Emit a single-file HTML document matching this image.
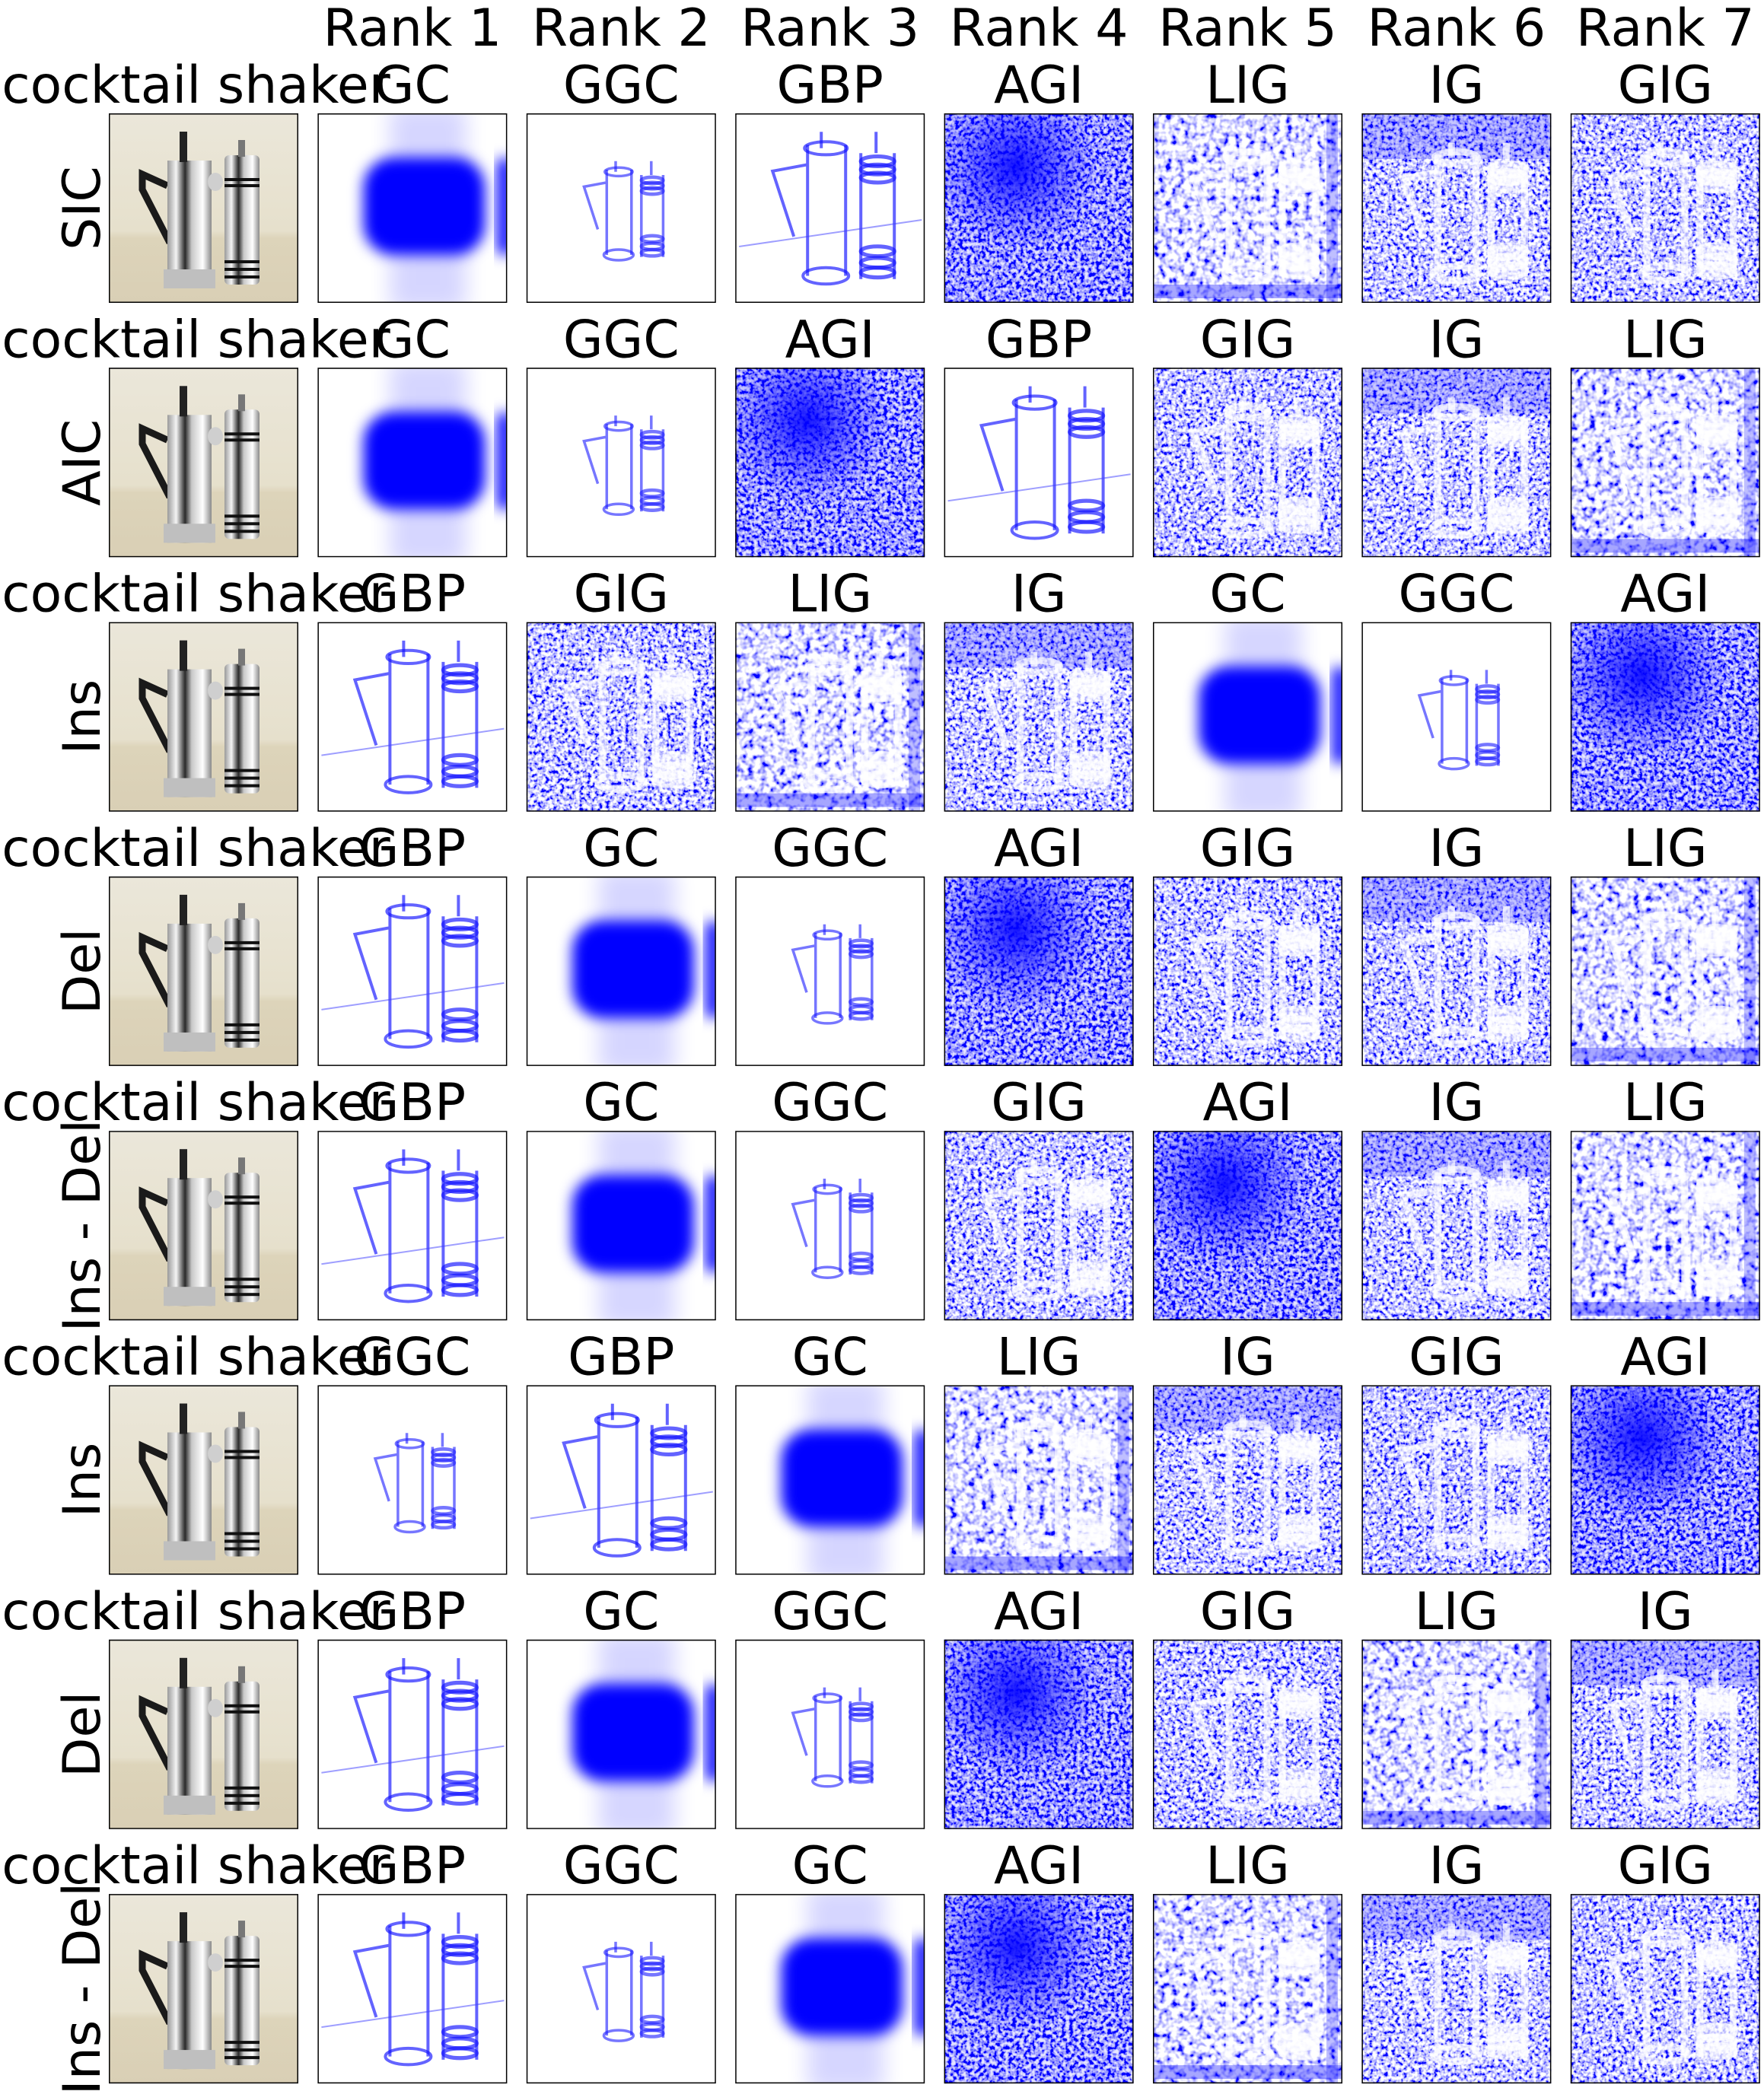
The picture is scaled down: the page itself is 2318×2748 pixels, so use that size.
<!DOCTYPE html>
<html><head><meta charset="utf-8"><title>Attribution method rankings – cocktail shaker</title>
<style>html,body{margin:0;padding:0;background:#fff;}svg{display:block;}</style></head>
<body>
<svg id="fig" xmlns="http://www.w3.org/2000/svg" width="2318" height="2748" viewBox="0 0 2318 2748" font-family="'DejaVu Sans','Liberation Sans',sans-serif">
<defs>
<linearGradient id="photoBg" x1="0" y1="0" x2="0" y2="1">
<stop offset="0" stop-color="#ebe7da"/><stop offset="0.62" stop-color="#e6e0cc"/><stop offset="0.66" stop-color="#ddd4ba"/><stop offset="1" stop-color="#d9cfb5"/></linearGradient>
<linearGradient id="silver" x1="0" y1="0" x2="1" y2="0">
<stop offset="0" stop-color="#9a9a9a"/><stop offset="0.2" stop-color="#f4f4f4"/><stop offset="0.4" stop-color="#2a2a2a"/><stop offset="0.55" stop-color="#c8c8c8"/><stop offset="0.8" stop-color="#ffffff"/><stop offset="1" stop-color="#8a8a8a"/></linearGradient>
<radialGradient id="agiBlob" cx="0.38" cy="0.28" r="0.45">
<stop offset="0" stop-color="#0000ff" stop-opacity="0.9"/><stop offset="0.6" stop-color="#0000ff" stop-opacity="0.4"/><stop offset="1" stop-color="#0000ff" stop-opacity="0.1"/></radialGradient>
<filter id="blurBig" x="-20%" y="-20%" width="140%" height="140%"><feGaussianBlur stdDeviation="9"/></filter>
<filter id="blurHalo" x="-30%" y="-30%" width="160%" height="160%"><feGaussianBlur stdDeviation="14"/></filter>
<clipPath id="cellClip"><rect x="0" y="0" width="249" height="249"/></clipPath>
</defs>
<g id="layer"></g>
</svg>
<script>
// ---- data ----
const columnHeaders = ["Rank 1","Rank 2","Rank 3","Rank 4","Rank 5","Rank 6","Rank 7"];
const imageTitle = "cocktail shaker";
const rowLabels = ["SIC","AIC","Ins","Del","Ins - Del","Ins","Del","Ins - Del"];
const rank0 = ["GC","GGC","GBP","AGI","LIG","IG","GIG"];
const rank1 = ["GC","GGC","AGI","GBP","GIG","IG","LIG"];
const rank2 = ["GBP","GIG","LIG","IG","GC","GGC","AGI"];
const rank3 = ["GBP","GC","GGC","AGI","GIG","IG","LIG"];
const rank4 = ["GBP","GC","GGC","GIG","AGI","IG","LIG"];
const rank5 = ["GGC","GBP","GC","LIG","IG","GIG","AGI"];
const rank6 = ["GBP","GC","GGC","AGI","GIG","LIG","IG"];
const rank7 = ["GBP","GGC","GC","AGI","LIG","IG","GIG"];
const rankings = [rank0,rank1,rank2,rank3,rank4,rank5,rank6,rank7];
const noiseDensity = {AGI:0.62, IG:0.42, GIG:0.44, LIG:0.28};

// ---- layout ----
const NS = "http://www.w3.org/2000/svg";
const X0 = 143, DX = 274.4, Y0 = 149, DY = 334.3, S = 249, FS = 68;
const colX = c => X0 + c*DX;
const rowY = r => Y0 + r*DY;
const layer = document.getElementById('layer');
const defs = document.querySelector('defs');
let fid = 0;

function el(tag, attrs, parent){
  const e = document.createElementNS(NS, tag);
  for (const k in attrs) e.setAttribute(k, attrs[k]);
  if (parent) parent.appendChild(e);
  return e;
}
function noiseFilter(m, freq){
  const id = 'nz'+(fid++);
  const f = el('filter',{id:id, filterUnits:'userSpaceOnUse', x:0, y:0, width:S, height:S}, defs);
  el('feTurbulence',{type:'fractalNoise', baseFrequency:freq, numOctaves:2, seed:fid*7+3, result:'n'}, f);
  const c = 2.5 - m;
  el('feColorMatrix',{type:'matrix', values:`-3 0 0 0 ${c}  -3 0 0 0 ${c}  0 0 0 0 1  0 0 0 0 1`}, f);
  return id;
}
function shakerOutline(g, bx, by, bw, bh, stroke, sw, op){
  const P = (x,y)=> (bx+x*bw).toFixed(1)+','+(by+y*bh).toFixed(1);
  const d = `M${P(.35,.1)}L${P(.35,.9)}M${P(.6,.1)}L${P(.6,.9)}M${P(.35,.22)}L${P(.12,.26)}L${P(.26,.66)}` +
            `M${P(.7,.15)}L${P(.7,.92)}M${P(.92,.15)}L${P(.92,.92)}M${P(.44,.02)}L${P(.44,.12)}M${P(.8,.02)}L${P(.8,.15)}`;
  el('path',{d:d, fill:'none', stroke:stroke, 'stroke-width':sw, opacity:op}, g);
  el('ellipse',{cx:bx+.47*bw, cy:by+.9*bh, rx:.15*bw, ry:.05*bh, fill:'none', stroke:stroke,'stroke-width':sw, opacity:op}, g);
  el('ellipse',{cx:bx+.47*bw, cy:by+.12*bh, rx:.14*bw, ry:.04*bh, fill:'none', stroke:stroke,'stroke-width':sw, opacity:op}, g);
  [.2,.25,.3,.75,.82,.88].forEach(y=>{
    el('ellipse',{cx:bx+.81*bw, cy:by+y*bh, rx:.11*bw, ry:.03*bh, fill:'none', stroke:stroke,'stroke-width':sw*1.3, opacity:op}, g);
  });
}
function drawMethod(g, m){
  el('rect',{x:0,y:0,width:S,height:S,fill:'#fff'}, g);
  if (m === 'GC'){
    el('rect',{x:95,y:-10,width:100,height:270,fill:'#0000ff',opacity:0.16,filter:'url(#blurHalo)'}, g);
    el('rect',{x:60,y:58,width:160,height:128,rx:40,fill:'#0000ff',filter:'url(#blurBig)'}, g);
    el('rect',{x:236,y:60,width:20,height:125,fill:'#0000ff',filter:'url(#blurBig)'}, g);
  } else if (m === 'GGC'){
    shakerOutline(g, 60, 60, 130, 140, '#1a1aff', 3.5, 0.6);
  } else if (m === 'GBP'){
    shakerOutline(g, 25, 20, 200, 215, '#1010ff', 4, 0.65);
    el('path',{d:'M5,175 L245,140', stroke:'#4040ff','stroke-width':2, opacity:0.5}, g);
  } else {
    const d = noiseDensity[m];
    el('rect',{x:0,y:0,width:S,height:S,filter:`url(#${noiseFilter(d, m==='LIG'?0.12:0.2)})`}, g);
    if (m === 'AGI') el('rect',{x:0,y:0,width:S,height:S,fill:'url(#agiBlob)'}, g);
    if (m === 'LIG'){
      el('rect',{x:0,y:225,width:S,height:18,fill:'#0000ff',opacity:0.35}, g);
      el('rect',{x:228,y:0,width:15,height:S,fill:'#0000ff',opacity:0.25}, g);
    }
    if (m === 'IG') el('rect',{x:0,y:0,width:S,height:60,fill:'#0000ff',opacity:0.22}, g);
    if (m !== 'AGI') shakerOutline(g, 30, 35, 200, 195, '#ffffff', 9, 0.7);
  }
}
function drawPhoto(g){
  el('rect',{x:0,y:0,width:S,height:S,fill:'url(#photoBg)'}, g);
  el('path',{d:'M77,95 L44,80 L44,100 L80,170', fill:'none', stroke:'#1a1a1a','stroke-width':9}, g);
  el('rect',{x:77,y:62,width:58,height:168,fill:'url(#silver)'}, g);
  el('rect',{x:72,y:205,width:68,height:25,fill:'#bfbfbf'}, g);
  el('rect',{x:93,y:24,width:10,height:40,fill:'#222'}, g);
  el('ellipse',{cx:140,cy:90,rx:10,ry:12,fill:'#cfcfcf'}, g);
  el('rect',{x:152,y:55,width:46,height:170,rx:6,fill:'url(#silver)'}, g);
  el('rect',{x:170,y:35,width:9,height:22,fill:'#777'}, g);
  [85,93,193,203,213].forEach(y=> el('rect',{x:152,y:y,width:46,height:4,fill:'#111'}, g));
}

// ---- header ----
columnHeaders.forEach((h,i)=>{
  const t = el('text',{x:colX(i+1)+S/2, y:60, 'font-size':FS, 'text-anchor':'middle', fill:'#000'}, layer);
  
  
  t.textContent = h;
});

// ---- rows ----
rankings.forEach((row, r)=>{
  const y = rowY(r);
  const lab = el('text',{x:0,y:0,'font-size':FS,'text-anchor':'middle', fill:'#000',
    transform:`translate(131,${y+S/2}) rotate(-90)`}, layer);
  
  
  lab.textContent = rowLabels[r];

  const pg = el('g',{transform:`translate(${colX(0)},${y})`, 'clip-path':'url(#cellClip)'}, layer);
  
  
  drawPhoto(pg);
  el('rect',{x:0,y:0,width:S,height:S,fill:'none',stroke:'#000','stroke-width':3}, pg);
  const pt = el('text',{x:colX(0)+S/2-10, y:y-14, 'font-size':FS,'text-anchor':'middle', fill:'#000'}, layer);
  
  
  pt.textContent = imageTitle;

  row.forEach((m, c)=>{
    const g = el('g',{transform:`translate(${colX(c+1)},${y})`, 'clip-path':'url(#cellClip)'}, layer);
    
    
    drawMethod(g, m);
    el('rect',{x:0,y:0,width:S,height:S,fill:'none',stroke:'#000','stroke-width':3}, g);
    const t = el('text',{x:colX(c+1)+S/2, y:y-14, 'font-size':FS,'text-anchor':'middle', fill:'#000'}, layer);
    
    
    t.textContent = m;
  });
});
</script>
</body></html>
